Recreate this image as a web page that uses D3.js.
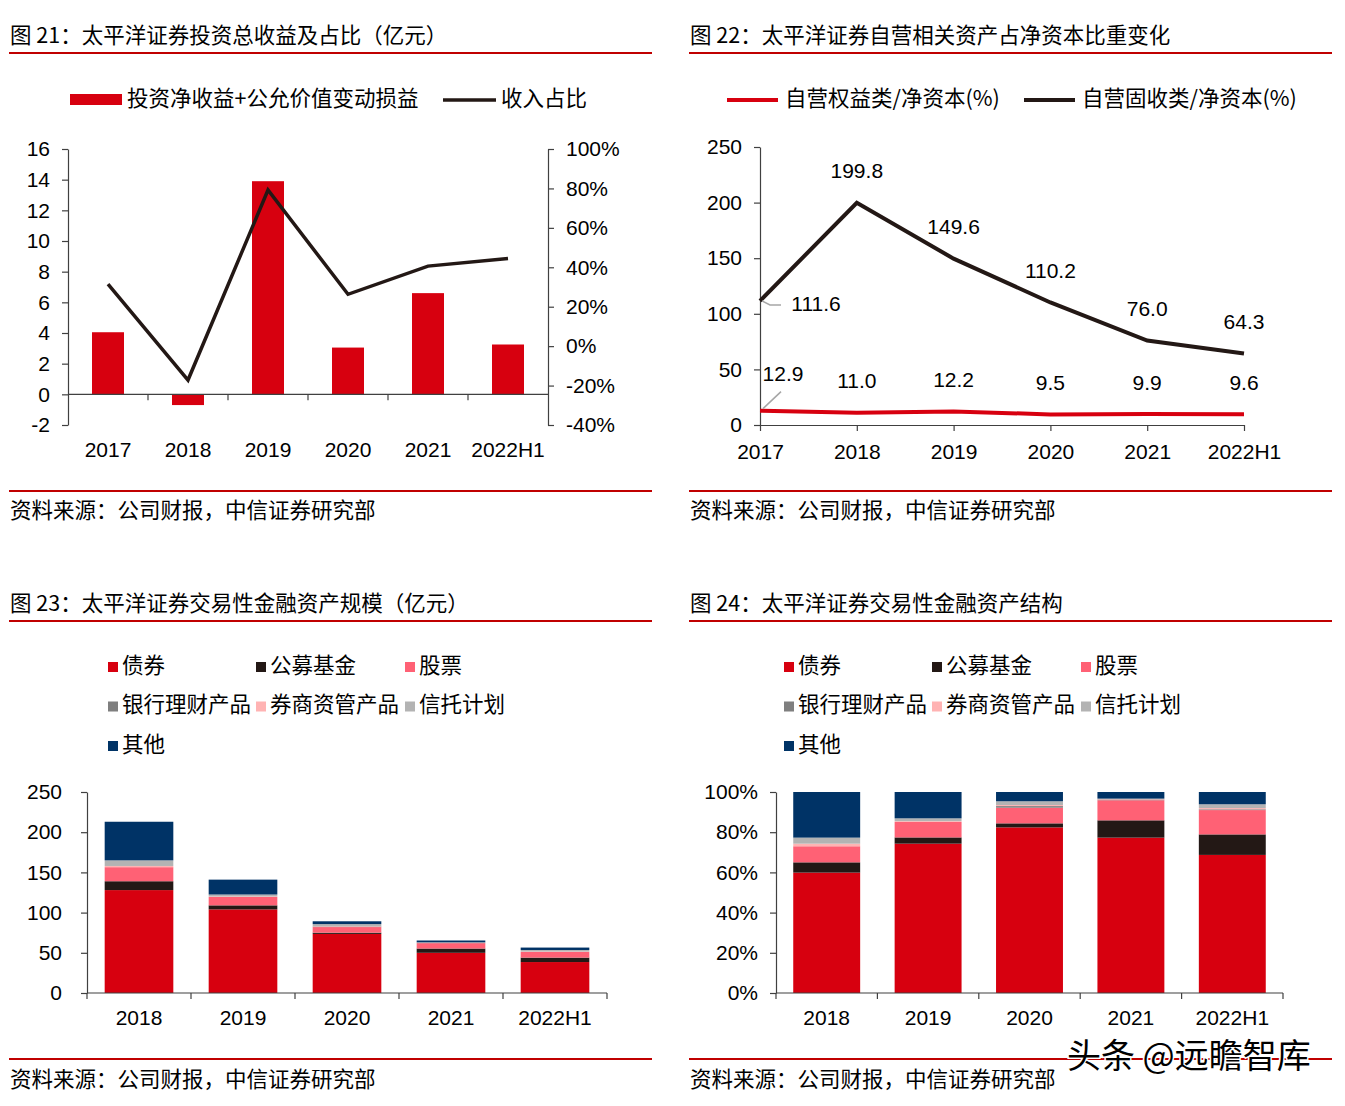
<!DOCTYPE html>
<html><head><meta charset="utf-8">
<script src="https://cdn.jsdelivr.net/npm/d3@7/dist/d3.min.js"></script>
<style>
body{margin:0;background:#fff;}
svg text{font-family:"Liberation Sans","Noto Sans CJK SC",Arial,sans-serif;fill:#000;}
.cjk{font-family:"Noto Sans CJK SC","Liberation Sans",sans-serif;}
</style></head>
<body>
<svg id="c" width="1345" height="1106"></svg>
<script>
// ---------- DATA ----------
const years1 = ["2017","2018","2019","2020","2021","2022H1"];
const investIncome = [4.05, -0.7, 13.9, 3.05, 6.6, 3.25];      // 亿元
const incomeShare = [31.5, -17.2, 79.2, 26.3, 40.6, 44.4];     // %
const leftTicks1 = [-2,0,2,4,6,8,10,12,14,16];
const rightTicks1 = [-40,-20,0,20,40,60,80,100];

const years2 = ["2017","2018","2019","2020","2021","2022H1"];
const equityRatio = [12.9, 11.0, 12.2, 9.5, 9.9, 9.6];
const fixedRatio = [111.6, 199.8, 149.6, 110.2, 76.0, 64.3];
const ticks2 = [0,50,100,150,200,250];

const years3 = ["2018","2019","2020","2021","2022H1"];
const assetTypes = ["债券","公募基金","股票","银行理财产品","券商资管产品","信托计划","其他"];
const bonds    = [128, 104, 73.5, 50, 38.5];
const funds    = [11, 5, 1.5, 5.3, 5.5];
const stocks   = [17.5, 10.5, 7, 6.7, 7];
const bankWM   = [0, 0, 0.7, 0.4, 0.3];
const brokerAM = [1.5, 0.5, 0.5, 0.3, 0.5];
const trusts   = [7, 2.5, 2.5, 0.3, 1.7];
const others   = [48, 18.5, 3.5, 2.3, 3];
const ticks3 = [0,50,100,150,200,250];

const bondsPct    = [59.9, 74.3, 82.4, 77.3, 68.7];
const fundsPct    = [5.1, 3.1, 2.0, 8.6, 10.2];
const stocksPct   = [8.0, 7.7, 7.8, 10.0, 12.1];
const bankWMPct   = [0, 0, 0.8, 0.4, 0.4];
const brokerAMPct = [1.3, 0.4, 0.5, 0.3, 0.6];
const trustsPct   = [3.0, 1.4, 1.9, 0.1, 1.9];
const othersPct   = [22.7, 13.1, 4.6, 3.3, 6.1];
const ticks4 = [0,20,40,60,80,100];

// ---------- STYLE ----------
const RED = "#d7000f", BLACK = "#231815", RULE = "#c00000", AX = "#404040";
const stackColors = ["#d7000f","#231815","#ff6175","#7f7f7f","#ffb3b3","#b3b3b3","#003366"];
const NUM = 21, CJK = 21.5;
const svg = d3.select("#c");

function frame(x0, x1, titleY, lineY, srcLineY, srcY, title){
  svg.append("text").attr("class","cjk").attr("x",x0+1).attr("y",titleY).attr("font-size",CJK)
     .attr("dominant-baseline","middle").text(title);
  svg.append("line").attr("x1",x0).attr("x2",x1).attr("y1",lineY).attr("y2",lineY).attr("stroke",RULE).attr("stroke-width",2);
  svg.append("line").attr("x1",x0).attr("x2",x1).attr("y1",srcLineY).attr("y2",srcLineY).attr("stroke",RULE).attr("stroke-width",2);
  svg.append("text").attr("class","cjk").attr("x",x0+1).attr("y",srcY).attr("font-size",CJK)
     .attr("dominant-baseline","middle").text("资料来源：公司财报，中信证券研究部");
}
function styleAxis(g){
  g.selectAll("path,line").attr("stroke",AX).attr("stroke-width",1.2);
  g.selectAll("text").attr("font-size",NUM).attr("fill","#000")
   .attr("font-family","'Liberation Sans',Arial,sans-serif");
}
const plain = d => String(d);

frame(9, 652, 37, 53, 491, 512, "图 21：太平洋证券投资总收益及占比（亿元）");
frame(689, 1332, 37, 53, 491, 512, "图 22：太平洋证券自营相关资产占净资本比重变化");
frame(9, 652, 605, 621, 1059, 1081, "图 23：太平洋证券交易性金融资产规模（亿元）");
frame(689, 1332, 605, 621, 1059, 1081, "图 24：太平洋证券交易性金融资产结构");

// ---------- CHART 1 ----------
(function(){
  const x = d3.scaleBand().domain(years1).range([68,548]).paddingInner(0.6).paddingOuter(0.3);
  const xb = d3.scaleBand().domain(years1).range([68,548]);
  const yL = d3.scaleLinear().domain([-2,16]).range([425,149]);
  const yR = d3.scaleLinear().domain([-40,100]).range([425,149]);
  const g = svg.append("g");
  g.selectAll("rect.b").data(years1).join("rect")
    .attr("x",d=>x(d)).attr("width",x.bandwidth())
    .attr("y",(d,i)=>yL(Math.max(0,investIncome[i])))
    .attr("height",(d,i)=>Math.abs(yL(investIncome[i])-yL(0)))
    .attr("fill",RED);
  const la = g.append("g").attr("transform","translate(68,0)")
    .call(d3.axisLeft(yL).tickValues(leftTicks1).tickFormat(plain).tickSize(6).tickSizeOuter(0).tickPadding(12));
  styleAxis(la);
  const ra = g.append("g").attr("transform","translate(548,0)")
    .call(d3.axisRight(yR).tickValues(rightTicks1).tickFormat(d=>d+"%").tickSize(6).tickSizeOuter(0).tickPadding(12));
  styleAxis(ra);
  const xa = g.append("g").attr("transform",`translate(0,${yL(0)})`);
  xa.append("line").attr("x1",68).attr("x2",548).attr("stroke",AX).attr("stroke-width",1.2);
  xa.selectAll("line.t").data(years1.slice(1)).join("line")
    .attr("x1",d=>xb(d)).attr("x2",d=>xb(d)).attr("y1",0).attr("y2",6).attr("stroke",AX).attr("stroke-width",1.2);
  g.selectAll("text.xl").data(years1).join("text")
    .attr("x",d=>xb(d)+xb.bandwidth()/2).attr("y",451).attr("text-anchor","middle")
    .attr("dominant-baseline","middle").attr("font-size",NUM).text(d=>d);
  const line = d3.line().x((d,i)=>xb(years1[i])+xb.bandwidth()/2).y(d=>yR(d));
  g.append("path").datum(incomeShare).attr("d",line).attr("fill","none")
    .attr("stroke",BLACK).attr("stroke-width",3.5).attr("stroke-linejoin","miter");
  g.append("rect").attr("x",70).attr("y",94).attr("width",52).attr("height",11).attr("fill",RED);
  g.append("text").attr("class","cjk").attr("x",127).attr("y",100).attr("font-size",CJK)
    .attr("dominant-baseline","middle").text("投资净收益+公允价值变动损益");
  g.append("line").attr("x1",443).attr("x2",496).attr("y1",100).attr("y2",100).attr("stroke",BLACK).attr("stroke-width",3.5);
  g.append("text").attr("class","cjk").attr("x",501).attr("y",100).attr("font-size",CJK)
    .attr("dominant-baseline","middle").text("收入占比");
})();

// ---------- CHART 2 ----------
(function(){
  const x = d3.scalePoint().domain(years2).range([760,1244]);
  const y = d3.scaleLinear().domain([0,250]).range([425,147]);
  const g = svg.append("g");
  const la = g.append("g").attr("transform","translate(760,0)")
    .call(d3.axisLeft(y).tickValues(ticks2).tickFormat(plain).tickSize(6).tickSizeOuter(0).tickPadding(12));
  styleAxis(la);
  const xa = g.append("g").attr("transform","translate(0,425)")
    .call(d3.axisBottom(x).tickSize(6).tickSizeOuter(0).tickPadding(13));
  styleAxis(xa);
  const line = d3.line().x((d,i)=>x(years2[i])).y(d=>y(d));
  g.append("path").datum(equityRatio).attr("d",line).attr("fill","none").attr("stroke",RED).attr("stroke-width",4);
  g.append("path").datum(fixedRatio).attr("d",line).attr("fill","none").attr("stroke",BLACK).attr("stroke-width",4);
  fixedRatio.forEach((v,i)=>{
    let lx = x(years2[i]), ly = y(v)-30;
    if(i===0){ lx = x(years2[i])+56; ly = y(v)+5; }
    g.append("text").attr("x",lx).attr("y",ly).attr("text-anchor","middle")
      .attr("dominant-baseline","middle").attr("font-size",NUM).text(v.toFixed(1));
  });
  g.append("path").attr("d",`M${x(years2[0])+2},${y(fixedRatio[0])} L${x(years2[0])+10},${y(fixedRatio[0])+4} L${x(years2[0])+21},${y(fixedRatio[0])+4}`)
    .attr("fill","none").attr("stroke","#a6a6a6").attr("stroke-width",1.5);
  equityRatio.forEach((v,i)=>{
    let lx = x(years2[i]), ly = y(v)-30;
    if(i===0){ lx = x(years2[i])+23; ly = y(v)-35; }
    g.append("text").attr("x",lx).attr("y",ly).attr("text-anchor","middle")
      .attr("dominant-baseline","middle").attr("font-size",NUM).text(v.toFixed(1));
  });
  g.append("line").attr("x1",x(years2[0])+3).attr("y1",y(equityRatio[0])-2)
    .attr("x2",x(years2[0])+21).attr("y2",y(equityRatio[0])-19).attr("stroke","#a6a6a6").attr("stroke-width",1.5);
  g.append("line").attr("x1",727).attr("x2",778).attr("y1",100).attr("y2",100).attr("stroke",RED).attr("stroke-width",4);
  g.append("text").attr("class","cjk").attr("x",785).attr("y",100).attr("font-size",CJK)
    .attr("dominant-baseline","middle").text("自营权益类/净资本(%)");
  g.append("line").attr("x1",1024).attr("x2",1075).attr("y1",100).attr("y2",100).attr("stroke",BLACK).attr("stroke-width",4);
  g.append("text").attr("class","cjk").attr("x",1082).attr("y",100).attr("font-size",CJK)
    .attr("dominant-baseline","middle").text("自营固收类/净资本(%)");
})();

// ---------- STACKED CHARTS ----------
function stacked(opts){
  const {x0,x1,series,ticks,domMax,fmt,labelGap,legendX} = opts;
  const x = d3.scaleBand().domain(years3).range([x0,x1]).paddingInner(0.34).paddingOuter(0.17);
  const xb = d3.scaleBand().domain(years3).range([x0,x1]);
  const y = d3.scaleLinear().domain([0,domMax]).range([993,792]);
  const g = svg.append("g");
  const rows = years3.map((yr,i)=>{ const o={year:yr}; assetTypes.forEach((k,j)=>o[k]=series[j][i]); return o; });
  const st = d3.stack().keys(assetTypes)(rows);
  st.forEach((s,j)=>{
    g.selectAll(null).data(s).join("rect")
      .attr("x",d=>x(d.data.year)).attr("width",x.bandwidth())
      .attr("y",d=>y(d[1])).attr("height",d=>Math.max(0,y(d[0])-y(d[1])))
      .attr("fill",stackColors[j]);
  });
  const la = g.append("g").attr("transform",`translate(${x0},0)`)
    .call(d3.axisLeft(y).tickValues(ticks).tickFormat(fmt).tickSize(6).tickSizeOuter(0).tickPadding(labelGap));
  styleAxis(la);
  const xa = g.append("g").attr("transform","translate(0,993)");
  xa.append("line").attr("x1",x0).attr("x2",x1).attr("stroke",AX).attr("stroke-width",1.2);
  const bounds = years3.map(d=>xb(d)).concat([x1]);
  xa.selectAll("line.t").data(bounds).join("line")
    .attr("x1",d=>d).attr("x2",d=>d).attr("y1",0).attr("y2",6).attr("stroke",AX).attr("stroke-width",1.2);
  g.selectAll("text.xl").data(years3).join("text")
    .attr("x",d=>xb(d)+xb.bandwidth()/2).attr("y",1019).attr("text-anchor","middle")
    .attr("dominant-baseline","middle").attr("font-size",NUM).text(d=>d);
  const colX = [legendX, legendX+148, legendX+297];
  assetTypes.forEach((k,j)=>{
    const cx = colX[j%3], cy = 667 + Math.floor(j/3)*39.5;
    g.append("rect").attr("x",cx).attr("y",cy-5).attr("width",10).attr("height",10).attr("fill",stackColors[j]);
    g.append("text").attr("class","cjk").attr("x",cx+14).attr("y",cy).attr("font-size",CJK)
      .attr("dominant-baseline","middle").text(k);
  });
}
stacked({x0:87,x1:607,series:[bonds,funds,stocks,bankWM,brokerAM,trusts,others],ticks:ticks3,domMax:250,
  fmt:plain,labelGap:19,legendX:108});
stacked({x0:776,x1:1283,series:[bondsPct,fundsPct,stocksPct,bankWMPct,brokerAMPct,trustsPct,othersPct],ticks:ticks4,domMax:100,
  fmt:d=>d+"%",labelGap:12,legendX:784});

svg.append("text").attr("class","cjk").attr("x",1067).attr("y",1059).attr("font-size",34)
  .attr("dominant-baseline","middle").attr("stroke","#fff").attr("stroke-width",3).attr("paint-order","stroke")
  .attr("fill","#111").text("头条 @远瞻智库");
</script>
</body></html>
